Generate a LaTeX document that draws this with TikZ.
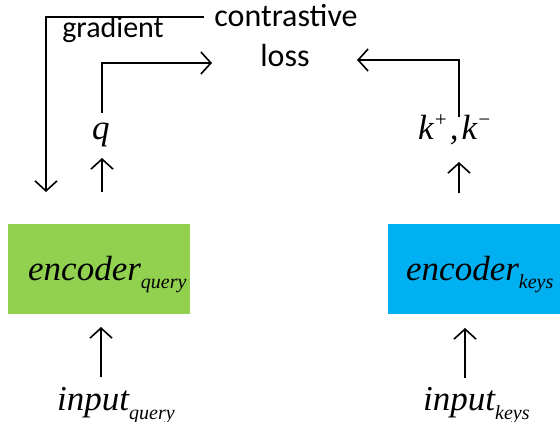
\documentclass[tikz,border=0pt]{standalone}
\usepackage{fontspec}
\setmainfont{Liberation Serif}
\newfontfamily\labelsans{Carlito}
\usetikzlibrary{arrows.meta}
\definecolor{encgreen}{HTML}{92D050}
\definecolor{encblue}{HTML}{00B0F0}
\newcommand{\subtxt}[1]{\raisebox{-9pt}{\fontsize{20}{20}\selectfont #1}}
\newcommand{\suptxt}[1]{\raisebox{13pt}{\fontsize{21}{21}\selectfont #1}}

\begin{document}
\begin{tikzpicture}[x=1pt,y=-1pt,
  arr/.style={line width=1.6pt,-{Straight Barb[length=10pt,width=22pt,line width=1.6pt]}},
  encbox/.style={minimum width=#1, minimum height=90pt, inner sep=0pt},
  mathlbl/.style={font=\fontsize{35}{40}\selectfont\itshape, inner sep=0pt, anchor=base west},
  sanslbl/.style={font=\labelsans\fontsize{32}{36}\selectfont, inner sep=0pt, anchor=base}]
\useasboundingbox (0,0) rectangle (560,422);

% encoder boxes
\node[encbox=182pt, fill=encgreen] (encq) at (99,269) {};
\node[encbox=172pt, fill=encblue] (enck) at (474,269) {};
\node[mathlbl] (encqtxt) at (28,280) {encoder\subtxt{query}};
\node[mathlbl] (encktxt) at (406,280) {encoder\subtxt{keys}};

% inputs
\node[mathlbl] (inq) at (57,410) {input\subtxt{query}};
\node[mathlbl] (ink) at (423,410) {input\subtxt{keys}};

% encoder outputs
\node[mathlbl] (q) at (92,140) {q};
\node[mathlbl] (k) at (418,140) {k\suptxt{+}\kern2pt,\kern3pt k\suptxt{−}};

% loss
\node[sanslbl] (contrastive) at (286,27) {contrastive};
\node[sanslbl] (loss) at (285,67) {loss};
\node[sanslbl, font=\labelsans\fontsize{30}{34}\selectfont] (gradient) at (113,38) {gradient};

% connector end points
\coordinate (inqtail) at (101,377);
\coordinate (inqtip) at (101,327);
\coordinate (inktail) at (465,378);
\coordinate (inktip) at (465,328);
\coordinate (qtail) at (102,192);
\coordinate (qtip) at (102,158);
\coordinate (ktail) at (459,193);
\coordinate (ktip) at (459,162);
\coordinate (qout) at (102,113);
\coordinate (qin) at (212,63);
\coordinate (kout) at (459,117);
\coordinate (kin) at (357,60);
\coordinate (gstart) at (contrastive.west |- 0,17);
\coordinate (gend) at (46,192);

\draw[arr] (inqtail) -- (inqtip);
\draw[arr] (inktail) -- (inktip);
\draw[arr] (qtail) -- (qtip);
\draw[arr] (ktail) -- (ktip);
\draw[arr] (qout) |- (qin);
\draw[arr] (kout) |- (kin);
\draw[arr] ([xshift=-10pt]gstart) -| (gend);
\end{tikzpicture}
\end{document}
